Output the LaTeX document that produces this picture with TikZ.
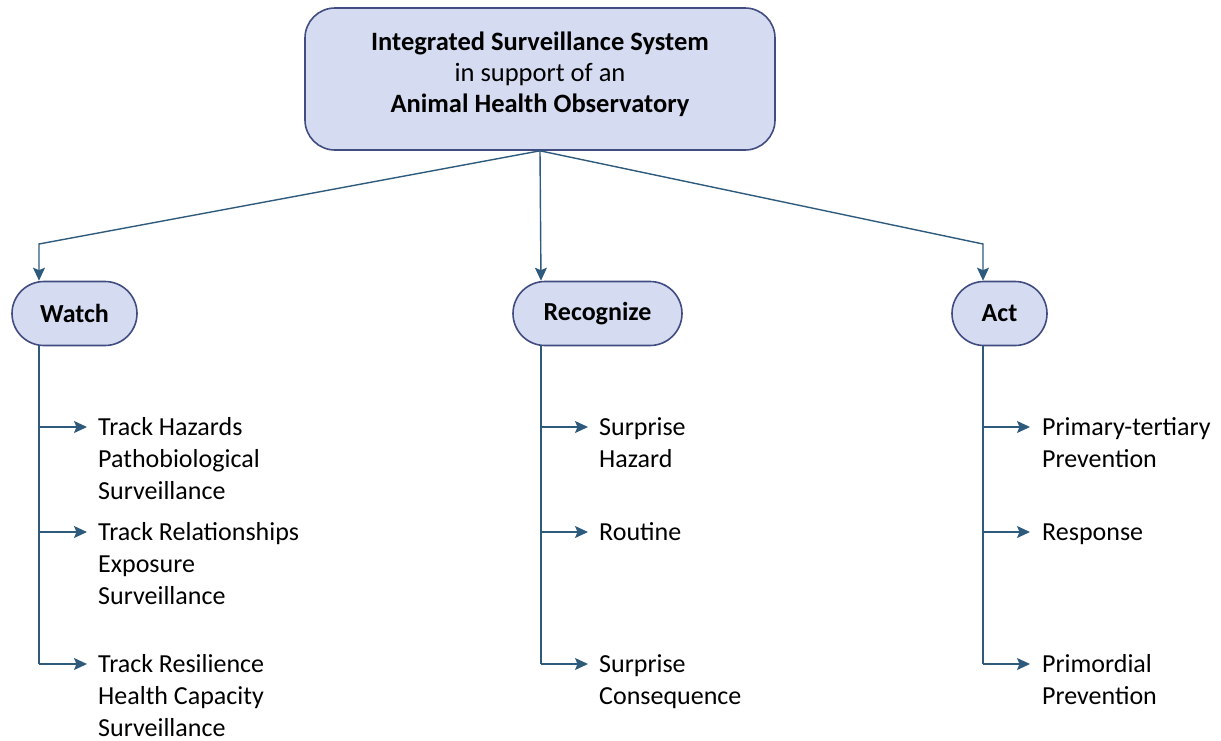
\documentclass[tikz,border=0pt]{standalone}
\usepackage{fontspec}
\setmainfont{Carlito}
\usetikzlibrary{arrows.meta}
\definecolor{boxfill}{HTML}{D5DCF1}
\definecolor{boxdraw}{HTML}{414C80}
\definecolor{linec}{HTML}{2E5B7C}
\begin{document}
\begin{tikzpicture}[x=1pt,y=-1pt,
  topbox/.style={draw=boxdraw, fill=boxfill, line width=1.6pt, rounded corners=30pt,
    minimum width=470pt, minimum height=142pt, inner sep=0pt},
  toptext/.style={align=center, inner sep=0pt, font=\fontsize{26.5}{31}\selectfont},
  pill/.style={draw=boxdraw, fill=boxfill, line width=1.6pt, rounded corners=32pt,
    minimum height=64pt, inner sep=0pt, font=\fontsize{26}{31}\selectfont\bfseries},
  conn/.style={draw=linec, line width=1.4pt},
  arr/.style={conn, -{Stealth[length=13pt,width=12pt,inset=2.5pt]}},
  item/.style={anchor=north west, align=left, inner sep=0pt, font=\fontsize{26}{32}\selectfont},
]
\useasboundingbox (0,0) rectangle (1221,740);

\node[topbox] (top) at (540,79) {};
\node[toptext] (toptxt) at (540,74) {\textbf{Integrated Surveillance System}\\in support of an\\\textbf{Animal Health Observatory}};

\node[pill, minimum width=125pt] (watch) at (74.5,313.5) {Watch};
\node[pill, minimum width=169pt] (recog) at (597.5,313.5) {Recognize};
\node[pill, minimum width=95pt] (act) at (999.5,313.5) {Act};

% branch corners
\coordinate (wc) at (39,244);
\coordinate (ac) at (983,244);
\coordinate (wx) at (39,0);
\coordinate (rx) at (541,0);
\coordinate (ax) at (983,0);

\draw[arr] (top.south) -- (wc) -- (wc |- watch.north);
\draw[arr] (top.south) -- (rx |- recog.north);
\draw[arr] (top.south) -- (ac) -- (ac |- act.north);

% Watch items
\coordinate (w1) at (87,427);
\coordinate (w2) at (87,532);
\coordinate (w3) at (87,664);
\node[item] (wt1) at (98,412.6) {\strut Track Hazards\\Pathobiological\\Surveillance};
\node[item] (wt2) at (98,517.6) {\strut Track Relationships\\Exposure\\Surveillance};
\node[item] (wt3) at (98,649.6) {\strut Track Resilience\\Health Capacity\\Surveillance};
\draw[conn] (wx |- watch.south) -- (wx |- w3);
\draw[arr] (wx |- w1) -- (w1);
\draw[arr] (wx |- w2) -- (w2);
\draw[arr] (wx |- w3) -- (w3);

% Recognize items
\coordinate (r1) at (588,427);
\coordinate (r2) at (588,532);
\coordinate (r3) at (588,664);
\node[item] (rt1) at (599,412.6) {\strut Surprise\\Hazard};
\node[item] (rt2) at (599,517.6) {\strut Routine};
\node[item] (rt3) at (599,649.6) {\strut Surprise\\Consequence};
\draw[conn] (rx |- recog.south) -- (rx |- r3);
\draw[arr] (rx |- r1) -- (r1);
\draw[arr] (rx |- r2) -- (r2);
\draw[arr] (rx |- r3) -- (r3);

% Act items
\coordinate (a1) at (1030,427);
\coordinate (a2) at (1030,532);
\coordinate (a3) at (1030,664);
\node[item] (at1) at (1042,412.6) {\strut Primary-tertiary\\Prevention};
\node[item] (at2) at (1042,517.6) {\strut Response};
\node[item] (at3) at (1042,649.6) {\strut Primordial\\Prevention};
\draw[conn] (ax |- act.south) -- (ax |- a3);
\draw[arr] (ax |- a1) -- (a1);
\draw[arr] (ax |- a2) -- (a2);
\draw[arr] (ax |- a3) -- (a3);
\end{tikzpicture}
\end{document}
